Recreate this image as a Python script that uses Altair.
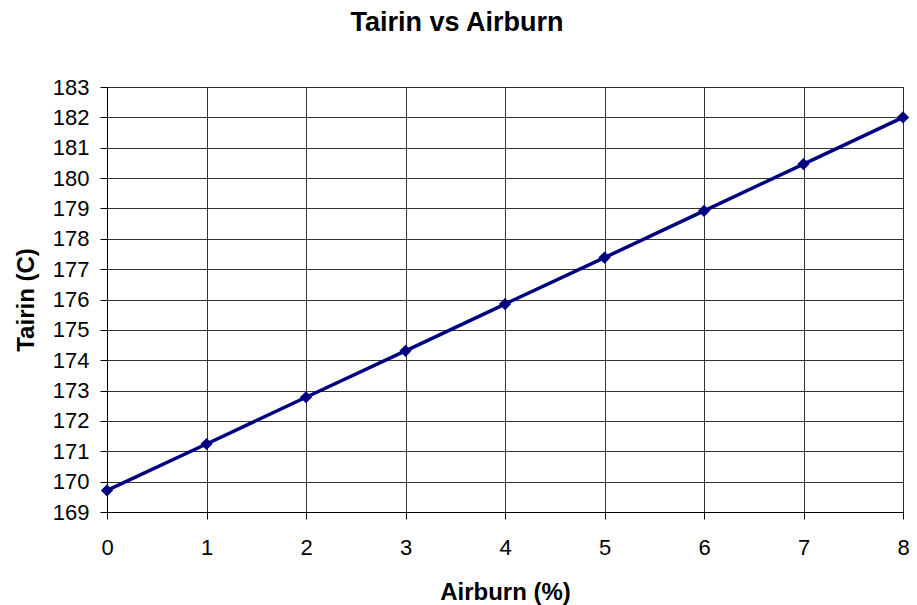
import altair as alt
import pandas as pd

airburn = [0, 1, 2, 3, 4, 5, 6, 7, 8]
tairin = [169.71, 171.24, 172.78, 174.31, 175.85, 177.38, 178.92, 180.46, 182.0]

df = pd.DataFrame({"Airburn": airburn, "Tairin": tairin})

FONT = "Liberation Sans"
NAVY = "#000080"

common = dict(tickSize=7, labelFontSize=22, titleFontSize=24, titleFontWeight="bold",
              labelFont=FONT, titleFont=FONT, labelColor="black", titleColor="black",
              domainColor="black", tickColor="black", gridColor="black",
              gridOpacity=0.8, labelFlush=False, format="d")

x = alt.X("Airburn:Q",
          scale=alt.Scale(domain=[0, 8], nice=False, zero=False),
          axis=alt.Axis(title="Airburn (%)", values=list(range(0, 9)),
                        labelPadding=18, titlePadding=22, **common))
y = alt.Y("Tairin:Q",
          scale=alt.Scale(domain=[169, 183], nice=False, zero=False),
          axis=alt.Axis(title="Tairin (C)", values=list(range(169, 184)),
                        labelPadding=11, titlePadding=14, **common))

line = alt.Chart(df).mark_line(color=NAVY, strokeWidth=3.5).encode(x=x, y=y)
pts = alt.Chart(df).mark_point(shape="diamond", filled=True, color=NAVY, size=150, opacity=1).encode(x=x, y=y)

chart = (line + pts).properties(
    width=796, height=425,
    title=alt.TitleParams("Tairin vs Airburn", font=FONT, fontSize=27, fontWeight="bold",
                          color="black", offset=39, dx=-48),
    autosize=alt.AutoSizeParams(type="none"),
    padding={"left": 99, "top": 79, "right": 6, "bottom": 93},
).configure_view(stroke=None).configure(background="white")

chart.save("out.html", embed_options={"renderer": "svg", "actions": False})
